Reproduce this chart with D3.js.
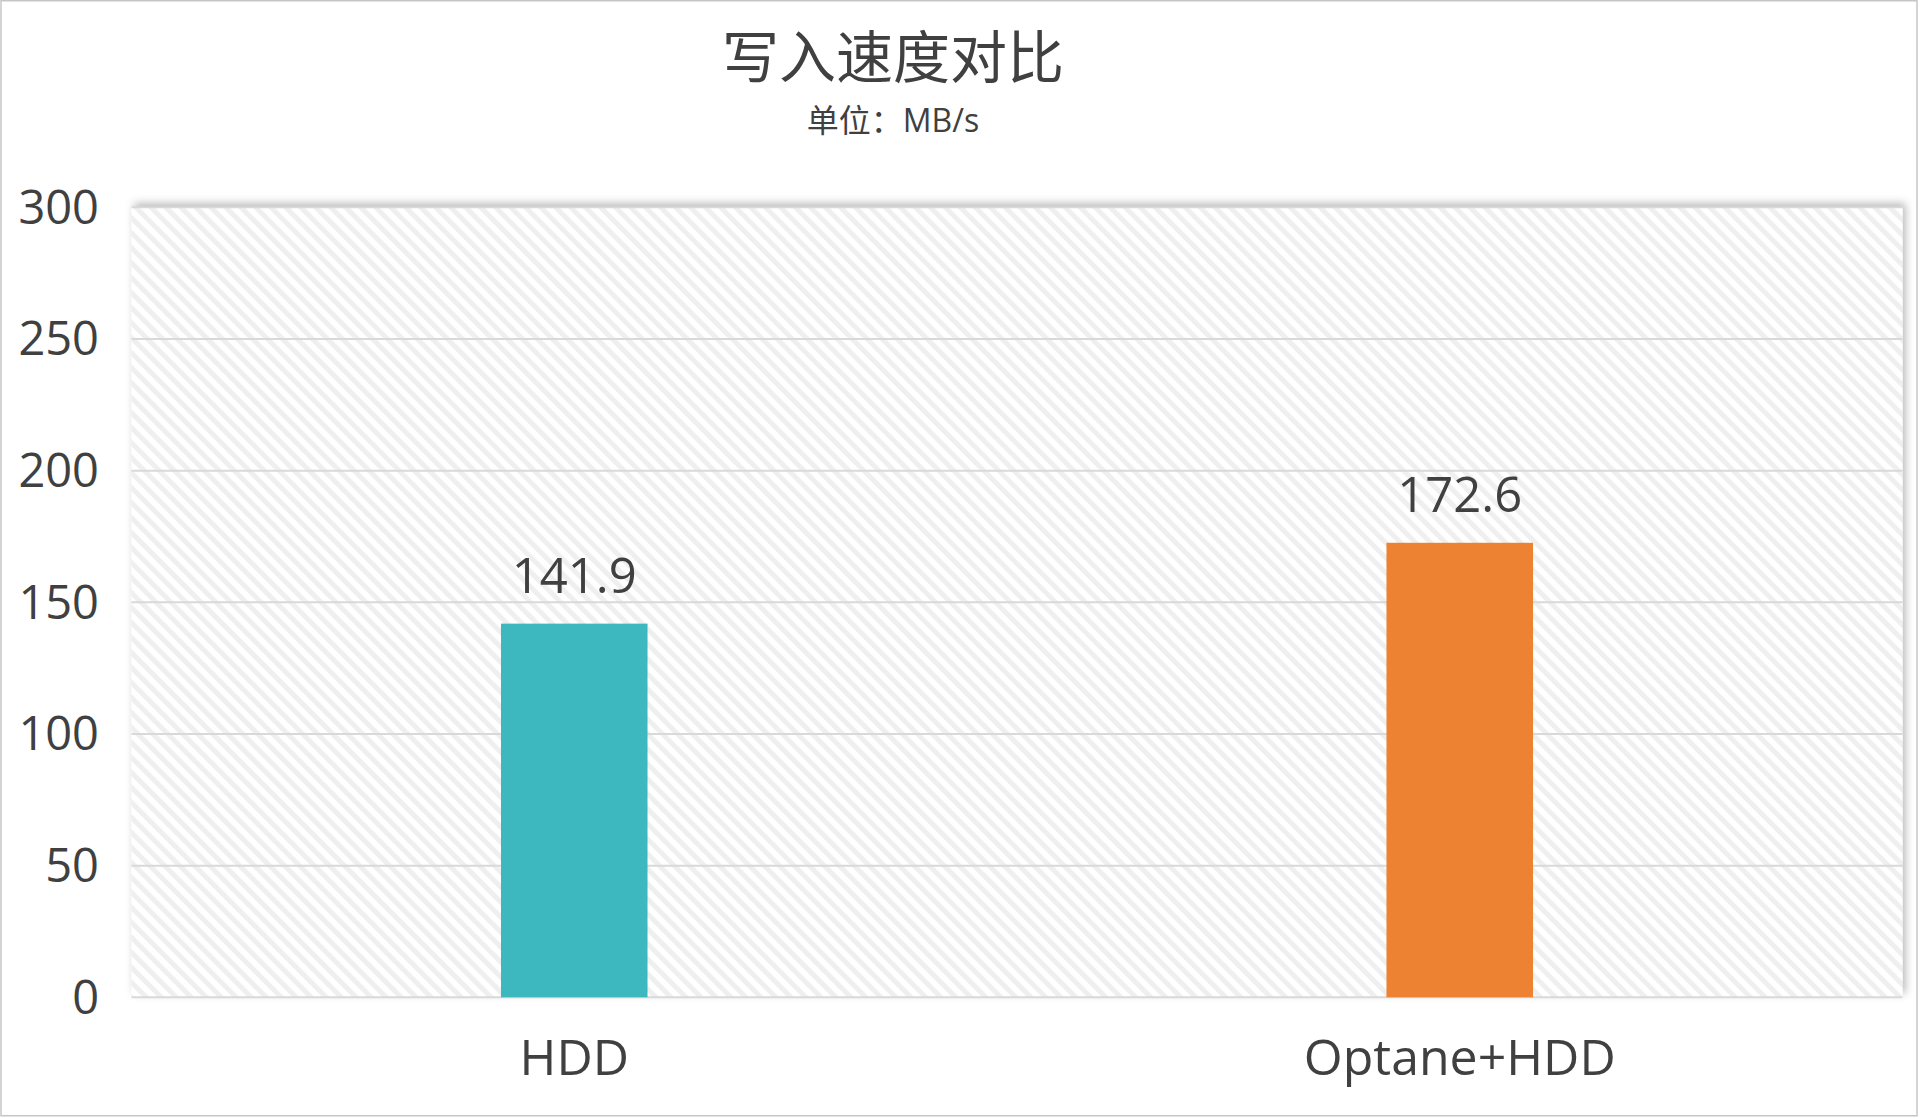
<!DOCTYPE html>
<html>
<head>
<meta charset="utf-8">
<script src="https://cdn.jsdelivr.net/npm/d3@7"></script>
<style>
  html, body { margin: 0; padding: 0; background: #fff; }
  svg { display: block; }
  text { font-family: "Open Sans", "Noto Sans CJK SC", sans-serif; fill: #404040; }
</style>
</head>
<body>
<svg id="chart" width="1920" height="1118"></svg>
<script>
const categories = ["HDD", "Optane+HDD"];
const values = [141.9, 172.6];
const barColors = ["#3db8bf", "#ed8232"];
const yTicks = [0, 50, 100, 150, 200, 250, 300];
const titleText = "写入速度对比";
const subtitleText = "单位：MB/s";

const W = 1920, H = 1118;
const margin = { left: 131.5, right: 17.5, top: 207.3, bottom: 120.7 };
const svg = d3.select("#chart");

// outer border
svg.append("rect")
  .attr("x", 1).attr("y", 0.75).attr("width", W - 4).attr("height", H - 3)
  .attr("fill", "#fff").attr("stroke", "#c6c6c6").attr("stroke-width", 1.5);

const defs = svg.append("defs");
const pat = defs.append("pattern")
  .attr("id", "hatch").attr("patternUnits", "userSpaceOnUse")
  .attr("width", 10.6).attr("height", 10.6)
  .attr("patternTransform", "rotate(-45)");
pat.append("rect").attr("width", 10.6).attr("height", 10.6).attr("fill", "#ffffff");
pat.append("rect").attr("width", 5).attr("height", 10.6).attr("fill", "#efefef");

const flt = defs.append("filter").attr("id", "shadow")
  .attr("x", "-5%").attr("y", "-10%").attr("width", "110%").attr("height", "120%");
flt.append("feDropShadow").attr("dx", 3).attr("dy", -4).attr("stdDeviation", 4)
  .attr("flood-color", "#000").attr("flood-opacity", 0.28);

const x = d3.scaleBand().domain(categories)
  .range([margin.left, W - margin.right]).paddingInner(0).paddingOuter(0);
const y = d3.scaleLinear().domain([0, 300]).range([H - margin.bottom, margin.top]);

// plot area
svg.append("rect")
  .attr("x", margin.left).attr("y", y(300))
  .attr("width", W - margin.right - margin.left)
  .attr("height", y(0) - y(300))
  .attr("fill", "url(#hatch)")
  .attr("filter", "url(#shadow)");

// gridlines
svg.append("g").selectAll("line").data(yTicks).join("line")
  .attr("x1", margin.left).attr("x2", W - margin.right)
  .attr("y1", d => y(d)).attr("y2", d => y(d))
  .attr("stroke", "#d9d9d9").attr("stroke-width", 2);

// y axis labels
const yAxis = d3.axisLeft(y).tickValues(yTicks).tickSize(0).tickPadding(0);
const gy = svg.append("g").attr("transform", "translate(99,0)").call(yAxis);
gy.select(".domain").remove();
gy.selectAll("text")
  .attr("font-size", 47).attr("fill", "#404040")
  .attr("font-family", "'Open Sans', sans-serif")
  .attr("dy", "0.34em").attr("x", 0);

// x axis labels
const xAxis = d3.axisBottom(x).tickSize(0).tickPadding(0);
const gx = svg.append("g").attr("transform", `translate(0,${y(0)})`).call(xAxis);
gx.select(".domain").remove();
gx.selectAll("text")
  .attr("font-size", 50).attr("fill", "#404040")
  .attr("font-family", "'Open Sans', sans-serif")
  .attr("dy", 0).attr("y", 78);

// bars
const barW = x.bandwidth() * 0.1655;
svg.append("g").selectAll("rect").data(values).join("rect")
  .attr("x", (d, i) => x(categories[i]) + x.bandwidth() / 2 - barW / 2)
  .attr("y", d => y(d))
  .attr("width", barW)
  .attr("height", d => y(0) - y(d))
  .attr("fill", (d, i) => barColors[i]);

// value labels
svg.append("g").selectAll("text").data(values).join("text")
  .attr("x", (d, i) => x(categories[i]) + x.bandwidth() / 2)
  .attr("y", d => y(d) - 31)
  .attr("text-anchor", "middle")
  .attr("font-size", 49)
  .text(d => d.toFixed(1));

// titles
svg.append("text").attr("x", 893).attr("y", 78)
  .attr("text-anchor", "middle").attr("font-size", 57)
  .attr("font-family", "'Noto Sans CJK SC', sans-serif")
  .text(titleText);
svg.append("text").attr("x", 893).attr("y", 132)
  .attr("text-anchor", "middle").attr("font-size", 32)
  .attr("font-family", "'Noto Sans CJK SC', sans-serif")
  .text(subtitleText);
</script>
</body>
</html>
